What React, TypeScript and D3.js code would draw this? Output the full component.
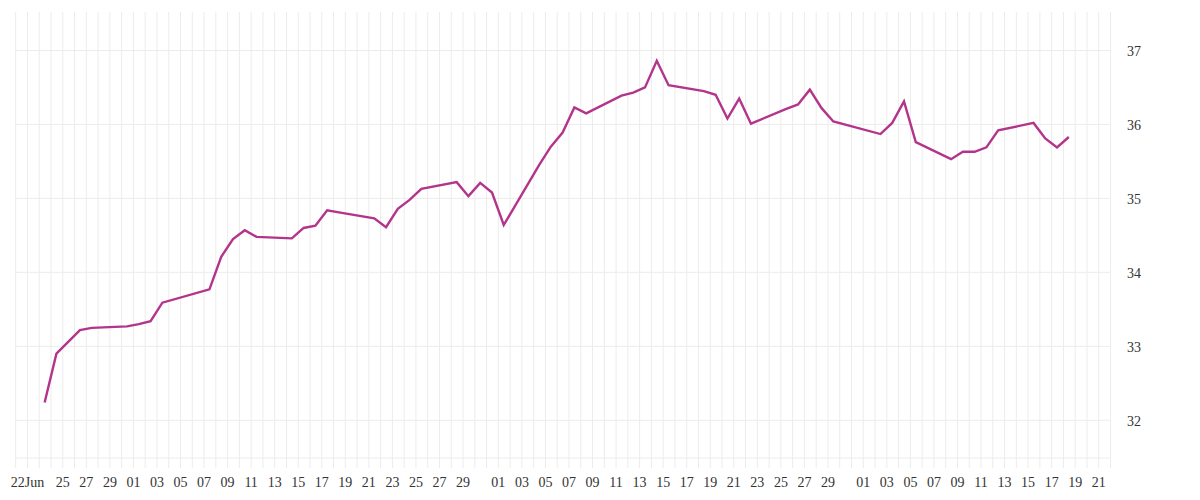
import React from "react";
import * as d3 from "d3";

const dates: string[] = [
  "2025-06-23", "2025-06-24", "2025-06-25", "2025-06-26", "2025-06-27",
  "2025-06-30", "2025-07-01", "2025-07-02", "2025-07-03",
  "2025-07-07", "2025-07-08", "2025-07-09", "2025-07-10", "2025-07-11",
  "2025-07-14", "2025-07-15", "2025-07-16", "2025-07-17", "2025-07-18",
  "2025-07-21", "2025-07-22", "2025-07-23", "2025-07-24", "2025-07-25",
  "2025-07-28", "2025-07-29", "2025-07-30", "2025-07-31", "2025-08-01",
  "2025-08-04", "2025-08-05", "2025-08-06", "2025-08-07", "2025-08-08",
  "2025-08-11", "2025-08-12", "2025-08-13", "2025-08-14", "2025-08-15",
  "2025-08-18", "2025-08-19", "2025-08-20", "2025-08-21", "2025-08-22",
  "2025-08-25", "2025-08-26", "2025-08-27", "2025-08-28", "2025-08-29",
  "2025-09-02", "2025-09-03", "2025-09-04", "2025-09-05",
  "2025-09-08", "2025-09-09", "2025-09-10", "2025-09-11", "2025-09-12",
  "2025-09-15", "2025-09-16", "2025-09-17", "2025-09-18",
];

const values: number[] = [
  32.24, 32.9, 33.06, 33.22, 33.25,
  33.27, 33.3, 33.34, 33.59,
  33.77, 34.21, 34.45, 34.57, 34.48,
  34.46, 34.6, 34.63, 34.84, 34.81,
  34.73, 34.61, 34.86, 34.98, 35.13,
  35.22, 35.03, 35.21, 35.08, 34.64,
  35.45, 35.7, 35.89, 36.23, 36.15,
  36.39, 36.43, 36.5, 36.86, 36.53,
  36.45, 36.4, 36.08, 36.35, 36.01,
  36.21, 36.27, 36.47, 36.22, 36.04,
  35.87, 36.02, 36.31, 35.76,
  35.53, 35.63, 35.63, 35.69, 35.92,
  36.02, 35.81, 35.69, 35.83,
];

const xTickDates: string[] = [
  "2025-06-22", "2025-06-25", "2025-06-27", "2025-06-29",
  "2025-07-01", "2025-07-03", "2025-07-05", "2025-07-07", "2025-07-09", "2025-07-11",
  "2025-07-13", "2025-07-15", "2025-07-17", "2025-07-19", "2025-07-21", "2025-07-23",
  "2025-07-25", "2025-07-27", "2025-07-29",
  "2025-08-01", "2025-08-03", "2025-08-05", "2025-08-07", "2025-08-09", "2025-08-11",
  "2025-08-13", "2025-08-15", "2025-08-17", "2025-08-19", "2025-08-21", "2025-08-23",
  "2025-08-25", "2025-08-27", "2025-08-29",
  "2025-09-01", "2025-09-03", "2025-09-05", "2025-09-07", "2025-09-09", "2025-09-11",
  "2025-09-13", "2025-09-15", "2025-09-17", "2025-09-19", "2025-09-21",
];

const yTicks: number[] = [32, 33, 34, 35, 36, 37];

const domainStart = "2025-06-21";
const domainEnd = "2025-09-22";

const parse = d3.timeParse("%Y-%m-%d");

export default function App() {
  const W = 1200;
  const H = 500;
  const left = 15.7;
  const right = 1110.5;
  const top = 12;
  const bottom = 458;

  const x = d3
    .scaleTime()
    .domain([parse(domainStart) as Date, parse(domainEnd) as Date])
    .range([left, right]);
  const y = d3.scaleLinear().domain([31.49, 37.52]).range([bottom, top]);

  const points = dates.map((s, i) => ({
    t: d3.timeHour.offset(parse(s) as Date, 11),
    v: values[i],
  }));

  const line = d3
    .line<{ t: Date; v: number }>()
    .x((d) => x(d.t))
    .y((d) => y(d.v));

  const gridDays = d3.timeDay.range(
    parse(domainStart) as Date,
    d3.timeDay.offset(parse(domainEnd) as Date, 1)
  );

  const grid = "#ececec";
  const font = "'Liberation Serif', 'Times New Roman', serif";
  const fmt = d3.timeFormat("%d");

  return (
    <svg
      width={W}
      height={H}
      style={{ position: "absolute", left: 0, top: 0, background: "#fff" }}
    >
      <g>
        {gridDays.map((d, i) => (
          <line
            key={"v" + i}
            x1={x(d)}
            x2={x(d)}
            y1={top}
            y2={bottom + 10}
            stroke={grid}
            strokeWidth={1}
          />
        ))}
        {yTicks.map((t) => (
          <line
            key={"h" + t}
            x1={left}
            x2={right}
            y1={y(t)}
            y2={y(t)}
            stroke={grid}
            strokeWidth={1}
          />
        ))}
        <line x1={left} x2={right} y1={bottom} y2={bottom} stroke={grid} strokeWidth={1} />
      </g>
      <path
        d={line(points) || ""}
        fill="none"
        stroke="#b3358b"
        strokeWidth={2.4}
        strokeLinejoin="miter"
      />
      <g fontFamily={font} fontSize={14} fill="#333">
        {xTickDates.map((s, i) => {
          const d = parse(s) as Date;
          return (
            <text key={"xt" + s} x={x(d)} y={487} textAnchor="middle">
              {i === 0 ? fmt(d) + "Jun" : fmt(d)}
            </text>
          );
        })}
        {yTicks.map((t) => (
          <text key={"yt" + t} x={1127} y={y(t) + 6} textAnchor="start">
            {t}
          </text>
        ))}
      </g>
    </svg>
  );
}
